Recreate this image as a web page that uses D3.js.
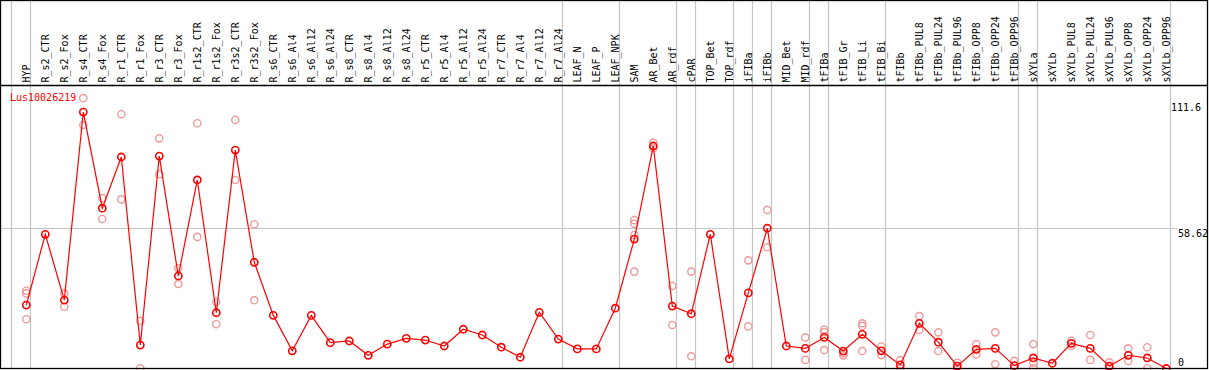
<!DOCTYPE html>
<html>
<head>
<meta charset="utf-8">
<script src="https://d3js.org/d3.v7.min.js"></script>
<style>
  body { margin: 0; background: #fff; }
  svg { display: block; }
  text { font-family: "DejaVu Sans Mono", monospace; font-size: 10px; }
</style>
</head>
<body>
<div id="chart"></div>
<script>
const geneName = "Lus10026219";

const categories = [
  "HYP", "R_s2_CTR", "R_s2_Fox", "R_s4_CTR", "R_s4_Fox", "R_r1_CTR", "R_r1_Fox",
  "R_r3_CTR", "R_r3_Fox", "R_r1s2_CTR", "R_r1s2_Fox", "R_r3s2_CTR", "R_r3s2_Fox",
  "R_s6_CTR", "R_s6_Al4", "R_s6_Al12", "R_s6_Al24", "R_s8_CTR", "R_s8_Al4",
  "R_s8_Al12", "R_s8_Al24", "R_r5_CTR", "R_r5_Al4", "R_r5_Al12", "R_r5_Al24",
  "R_r7_CTR", "R_r7_Al4", "R_r7_Al12", "R_r7_Al24", "LEAF_N", "LEAF_P", "LEAF_NPK",
  "SAM", "AR_Bet", "AR_rdf", "cPAR", "TOP_Bet", "TOP_rdf", "iFIBa", "iFIBb",
  "MID_Bet", "MID_rdf", "tFIBa", "tFIB_Gr", "tFIB_Li", "tFIB_Bi", "tFIBb",
  "tFIBb_PUL8", "tFIBb_PUL24", "tFIBb_PUL96", "tFIBb_OPP8", "tFIBb_OPP24", "tFIBb_OPP96",
  "sXYLa", "sXYLb", "sXYLb_PUL8", "sXYLb_PUL24", "sXYLb_PUL96", "sXYLb_OPP8",
  "sXYLb_OPP24", "sXYLb_OPP96"
];

// mean expression per sample
const meanValues = [
  26.5, 56.1, 28.6, 107.2, 67.0, 88.4, 9.8, 88.8, 38.7, 78.8,
  23.3, 91.3, 44.4, 22.2, 7.4, 22.2, 10.8, 11.5, 5.5, 10.2,
  12.6, 11.9, 9.4, 16.4, 14.0, 8.9, 4.7, 23.5, 12.3, 8.2,
  8.2, 25.2, 54.1, 93.0, 26.1, 22.9, 56.1, 4.0, 31.6, 58.62,
  9.4, 8.4, 13.0, 7.3, 14.3, 7.4, 1.5, 18.9, 11.0, 1.0,
  8.0, 8.4, 1.2, 4.4, 2.2, 10.5, 8.4, 1.0, 5.5, 4.4, 0
];

// individual replicates per sample
const replicates = [
  [32.5, 31.4, 20.6], [], [31.4, 25.8], [113.0, 101.8], [71.2, 62.5],
  [106.3, 70.7], [19.9, 0.1], [96.2, 81.2], [41.9, 35.3], [102.5, 55.0],
  [27.8, 18.5], [103.9, 78.8], [60.3, 28.5],
  [], [], [], [], [], [], [], [], [], [], [], [], [], [], [], [], [], [], [],
  [62.0, 60.5, 55.8, 40.5], [94.4, 92.1], [34.5, 18.2], [40.5, 5.1], [], [],
  [45.2, 17.6], [66.3, 50.7], [], [13.0, 3.6], [16.3, 15.2, 7.7], [6.4, 5.5],
  [18.9, 17.8, 7.3], [9.2, 5.6], [3.5, 0], [21.9, 16.1], [15.1, 7.3], [2.4, 0],
  [10.2, 5.9], [15.1, 1.8], [3.2, 0], [10.2, 2.4, 0.1], [], [11.6, 9.4],
  [14.0, 3.6], [2.6, 0], [8.4, 3.1], [8.9, 0.1], []
];

// samples after which a group separator is drawn
const groupEnds = [
  "HYP", "R_r7_Al24", "LEAF_NPK", "AR_rdf", "cPAR", "TOP_rdf", "iFIBa", "iFIBb",
  "MID_rdf", "tFIBa", "tFIB_Bi", "tFIBb_OPP96", "sXYLa", "sXYLb_OPP96"
];

const tickValues = [111.6, 58.62, 0];
const tickLabels = ["111.6", "58.62", "0"];
const gridValues = [58.62];

const width = 1209, height = 370;
const headerBottom = 85, plotBottom = 368.5, rightEdge = 1207.5;

const svg = d3.select("#chart").append("svg")
  .attr("width", width)
  .attr("height", height);

const x = d3.scalePoint()
  .domain(categories)
  .range([26.3, 1166.3]);

const y = d3.scaleLinear()
  .domain([0, 111.6])
  .range([plotBottom, 101.5]);

const step = x.step();

// horizontal grid
svg.selectAll(".grid")
  .data(gridValues)
  .enter().append("line")
  .attr("x1", 0)
  .attr("x2", 1177)
  .attr("y1", d => Math.round(y(d)) + 0.5)
  .attr("y2", d => Math.round(y(d)) + 0.5)
  .attr("stroke", "#c4c4c4")
  .attr("stroke-width", 1.2);

// group separators (plus one at the far left)
const sepX = [x(categories[0]) - step + 4].concat(groupEnds.map(c => x(c) + 4));
svg.selectAll(".sep")
  .data(sepX)
  .enter().append("line")
  .attr("x1", d => Math.round(d) + 0.5)
  .attr("x2", d => Math.round(d) + 0.5)
  .attr("y1", 0)
  .attr("y2", plotBottom)
  .attr("stroke", "#c4c4c4")
  .attr("stroke-width", 1.2);

// replicate points
const repPoints = [];
replicates.forEach((reps, i) => {
  reps.forEach(v => repPoints.push({cat: categories[i], v: v}));
});

svg.selectAll(".rep")
  .data(repPoints)
  .enter().append("circle")
  .attr("cx", d => x(d.cat))
  .attr("cy", d => y(d.v))
  .attr("r", 3.6)
  .attr("fill", "none")
  .attr("stroke", "#ee9a9a")
  .attr("stroke-width", 1.4);

// mean line
const line = d3.line()
  .x((d, i) => x(categories[i]))
  .y(d => y(d));

svg.append("path")
  .datum(meanValues)
  .attr("d", line)
  .attr("fill", "none")
  .attr("stroke", "#ff0000")
  .attr("stroke-width", 1.2);

svg.selectAll(".mean")
  .data(meanValues)
  .enter().append("circle")
  .attr("cx", (d, i) => x(categories[i]))
  .attr("cy", d => y(d))
  .attr("r", 3.6)
  .attr("fill", "none")
  .attr("stroke", "#ff0000")
  .attr("stroke-width", 1.6);

// sample labels in the header
svg.selectAll(".lab")
  .data(categories)
  .enter().append("text")
  .attr("transform", d => "translate(" + (x(d) + 3.8) + "," + (headerBottom - 2.5) + ") rotate(-90)")
  .attr("text-anchor", "start")
  .attr("fill", "#000")
  .text(d => d);

// gene name
svg.append("text")
  .attr("x", 10)
  .attr("y", 101)
  .attr("fill", "#ff0000")
  .text(geneName);

// value labels at right, clipped by the frame
svg.append("clipPath")
  .attr("id", "frameClip")
  .append("rect")
  .attr("x", 0).attr("y", 0)
  .attr("width", rightEdge).attr("height", plotBottom);

svg.append("g")
  .attr("clip-path", "url(#frameClip)")
  .selectAll("text")
  .data(tickValues)
  .enter().append("text")
  .attr("x", (d, i) => i === 0 ? 1171 : 1178)
  .attr("y", d => Math.min(y(d) + 9, 366))
  .attr("fill", "#000")
  .text((d, i) => tickLabels[i]);

// frame
svg.append("rect")
  .attr("x", 0.5)
  .attr("y", 0.5)
  .attr("width", rightEdge - 0.5)
  .attr("height", plotBottom - 0.5)
  .attr("fill", "none")
  .attr("stroke", "#000")
  .attr("stroke-width", 1.3);

svg.append("line")
  .attr("x1", 0)
  .attr("x2", rightEdge)
  .attr("y1", headerBottom + 0.5)
  .attr("y2", headerBottom + 0.5)
  .attr("stroke", "#000")
  .attr("stroke-width", 1.3);
</script>
</body>
</html>
